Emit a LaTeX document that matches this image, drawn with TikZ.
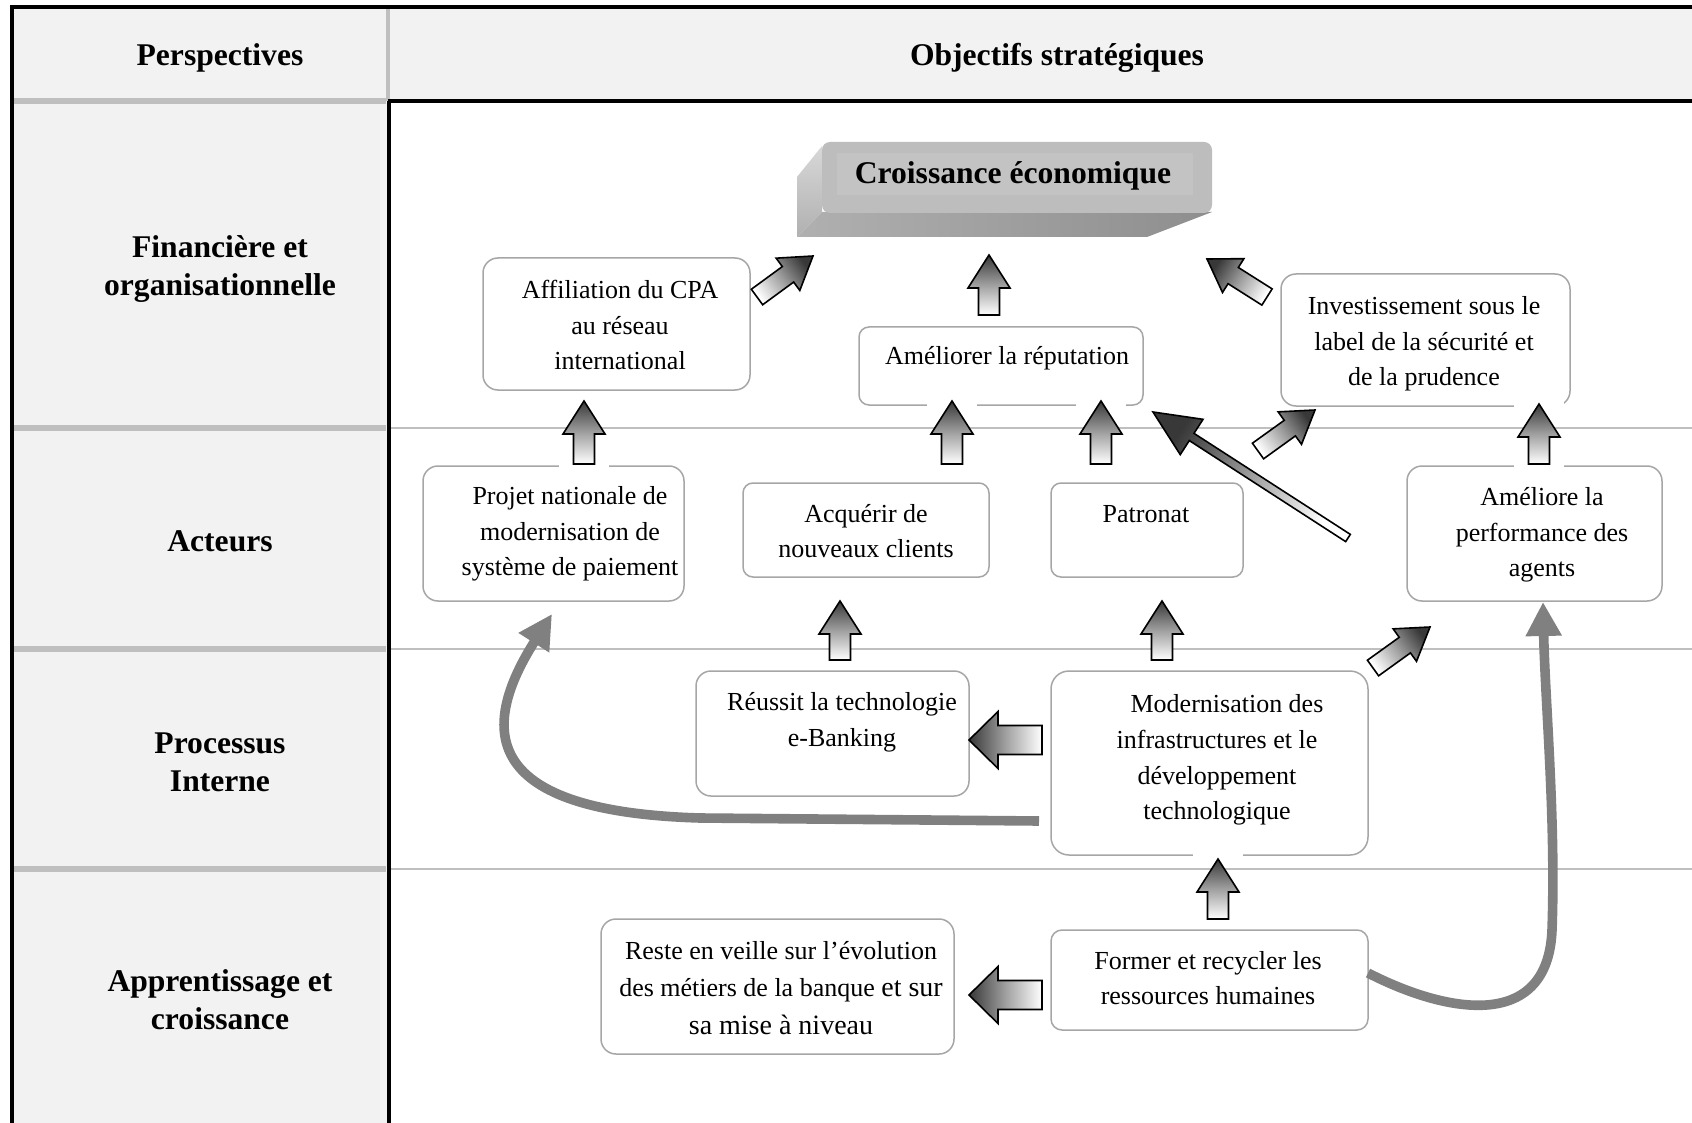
\documentclass[tikz,border=0pt]{standalone}
\usepackage{fontspec}
\setmainfont{Liberation Serif}
\usetikzlibrary{calc,arrows.meta,fit}

\definecolor{hdrfill}{HTML}{F2F2F2}
\definecolor{rulegray}{HTML}{BFBFBF}
\definecolor{boxline}{HTML}{A6A6A6}
\definecolor{curvegray}{HTML}{808080}
\definecolor{facegray}{HTML}{BDBDBD}
\definecolor{faceinner}{HTML}{C3C3C3}
\definecolor{sidelight}{HTML}{D8D8D8}
\definecolor{sidemid}{HTML}{B0B0B0}
\definecolor{sidedark}{HTML}{8E8E8E}
\definecolor{arrowdark}{HTML}{383838}
\definecolor{arrowmid}{HTML}{A0A0A0}

% block arrow: #1 style, #2 tail, #3 tip, #4 shaft half-width, #5 head half-width, #6 head length
\newcommand\blockarrow[6]{%
  \coordinate (ba-h) at ($(#3)!#6!(#2)$);
  \path[#1] ($(#2)!#4!90:(#3)$) -- ($(ba-h)!#4!90:(#3)$) -- ($(ba-h)!#5!90:(#3)$)
    -- (#3) -- ($(ba-h)!#5!-90:(#3)$) -- ($(ba-h)!#4!-90:(#3)$)
    -- ($(#2)!#4!-90:(#3)$) -- cycle;}
\newcommand\uparrowblk[2]{\blockarrow{upfill}{#1}{#2}{5.25pt}{10.5pt}{16.5pt}}
\newcommand\leftarrowblk[2]{\blockarrow{leftfill}{#1}{#2}{7.25pt}{14.25pt}{14.5pt}}
\newcommand\diagarrowblk[3]{\blockarrow{diagfill=#3}{#1}{#2}{4.8pt}{10pt}{15.5pt}}

\tikzset{
  objbox/.style={draw=boxline, line width=0.75pt, fill=white, rounded corners=#1, inner sep=0pt},
  objbox/.default=7.5pt,
  bodytxt/.style={font=\fontsize{13}{17.8}\selectfont, align=center, inner sep=0pt},
  headtxt/.style={font=\bfseries\fontsize{15.8}{19}\selectfont, align=center, inner sep=0pt},
  upfill/.style={draw=black, line width=0.8pt, top color=arrowdark, bottom color=white, middle color=arrowmid},
  leftfill/.style={draw=black, line width=0.8pt, left color=arrowdark, right color=white, middle color=arrowmid},
  diagfill/.style={draw=black, line width=0.8pt, top color=arrowdark, bottom color=white, middle color=arrowmid, shading angle=#1},
  thickcurve/.style={draw=curvegray, line width=4.8pt, -{Triangle[length=17pt,width=17pt]}},
  colrule/.style={rulegray, line width=2.6pt},
  rowrule/.style={rulegray, line width=0.75pt},
}

\begin{document}
\begin{tikzpicture}[x=0.5pt, y=-0.5pt]
\useasboundingbox (0,0) rectangle (1692,1123);
\clip (0,0) rectangle (1692,1123);

% table background
\fill[white] (0,0) rectangle (1692,1123);
\fill[hdrfill] (12,7) rectangle (1692,101);
\fill[hdrfill] (12,101) rectangle (389,1123);

% table rules
\draw[rulegray, line width=1.6pt] (388,7) -- (388,101);
\draw[colrule] (14,101) -- (386,101);
\foreach \yy in {428,649,869} \draw[colrule] (14,\yy) -- (386,\yy);
\draw[line width=2.2pt] (388,101) -- (1692,101);
\draw[line width=2.2pt] (389,101) -- (389,1123);
\draw[line width=2.3pt] (12,1123) -- (12,7) -- (1692,7);

% bevelled goal block
\shade[top color=sidelight, bottom color=sidemid] (822,146) -- (797,177) -- (797,237) -- (822,212) -- cycle;
\shade[left color=sidemid, right color=sidedark] (797,237) -- (822,212) -- (1212,212) -- (1147,237) -- cycle;
\fill[facegray, rounded corners=4pt] (822,142) rectangle (1212,213);
\fill[faceinner] (837,153) rectangle (1193,195);

% objective boxes
\node[objbox, fit={(483,258) (750,390)}] (aff) {};
\node[objbox=5pt, fit={(859,327) (1143,405)}] (rep) {};
\node[objbox, fit={(1281,274) (1570,406)}] (inv) {};
\node[objbox, fit={(423,466) (684,601)}] (proj) {};
\node[objbox=5pt, fit={(743,483) (989,577)}] (acq) {};
\node[objbox=5pt, fit={(1051,483) (1243,577)}] (pat) {};
\node[objbox, fit={(1407,466) (1662,601)}] (perf) {};
\node[objbox, fit={(696,671) (969,796)}] (ebk) {};
\node[objbox=9pt, fit={(1051,671) (1368,855)}] (mod) {};
\node[objbox, fit={(601,919) (954,1054)}] (vei) {};
\node[objbox=5.5pt, fit={(1051,930) (1368,1030)}] (form) {};

% arrow end points
\coordinate (u1-s) at (989,315);  \coordinate (u1-e) at (989,255);
\coordinate (u2-s) at (584,464);  \coordinate (u2-e) at (584,401);
\coordinate (u3-s) at (952,464);  \coordinate (u3-e) at (952,401);
\coordinate (u4-s) at (1101,464); \coordinate (u4-e) at (1101,401);
\coordinate (u5-s) at (1539,464); \coordinate (u5-e) at (1539,404);
\coordinate (u6-s) at (840,660);  \coordinate (u6-e) at (840,601);
\coordinate (u7-s) at (1162,660); \coordinate (u7-e) at (1162,601);
\coordinate (u8-s) at (1218,919); \coordinate (u8-e) at (1218,859);
\coordinate (l1-s) at (1042,740); \coordinate (l1-e) at (969,740);
\coordinate (l2-s) at (1042,995); \coordinate (l2-e) at (969,995);
\coordinate (d1-s) at (757,297);  \coordinate (d1-e) at (813,256);
\coordinate (d2-s) at (1267,297); \coordinate (d2-e) at (1207,259);
\coordinate (d3-s) at (1258,451); \coordinate (d3-e) at (1315,410);
\coordinate (d4-s) at (1373,668); \coordinate (d4-e) at (1430,627);
\coordinate (lg-s) at (1348,538); \coordinate (lg-e) at (1153,412);

% white margins around the vertical arrows
\foreach \cx/\ya/\yb in {584/395/470, 952/395/470, 1101/395/470, 1539/398/470, 1218/853/925}
  \fill[white] (\cx-25,\ya) rectangle (\cx+25,\yb);

% row separators of the objectives column
\foreach \yy in {428,649,869} \draw[rowrule] (391,\yy) -- (1692,\yy);

% block arrows
\uparrowblk{u1-s}{u1-e}
\uparrowblk{u2-s}{u2-e}
\uparrowblk{u3-s}{u3-e}
\uparrowblk{u4-s}{u4-e}
\uparrowblk{u5-s}{u5-e}
\uparrowblk{u6-s}{u6-e}
\uparrowblk{u7-s}{u7-e}
\uparrowblk{u8-s}{u8-e}
\leftarrowblk{l1-s}{l1-e}
\leftarrowblk{l2-s}{l2-e}
\diagarrowblk{d1-s}{d1-e}{-54}
\diagarrowblk{d2-s}{d2-e}{58}
\diagarrowblk{d3-s}{d3-e}{-54}
\diagarrowblk{d4-s}{d4-e}{-54}
\blockarrow{diagfill=57}{lg-s}{lg-e}{2.15pt}{10.5pt}{23pt}

% thick curved links
\coordinate (c1-s) at (1039,821);
\coordinate (c1-e) at (552,614);
\coordinate (c2-s) at (1368,973);
\coordinate (c2-e) at (1543,602);
\draw[thickcurve] (c1-s) -- (700,818) .. controls (495,812) and (472,740) .. (c1-e);
\draw[thickcurve] (c2-s) .. controls (1450,1015) and (1548,1030) .. (1552,930)
  .. controls (1556,820) and (1545,700) .. (c2-e);

% header and perspective labels
\node[headtxt] (h-persp) at (220,58) {Perspectives};
\node[headtxt] (h-obj) at (1057,58) {Objectifs stratégiques};
\node[headtxt] (p-fin) at (220,269) {Financière et\\organisationnelle};
\node[headtxt] (p-act) at (220,541) {Acteurs};
\node[headtxt] (p-proc) at (220,762) {Processus\\Interne};
\node[headtxt] (p-app) at (220,1000) {Apprentissage et\\croissance};

% objective labels
\node[headtxt] (croiss) at (1013,176) {Croissance économique};
\node[bodytxt] (aff-t) at (620,325) {Affiliation du CPA\\au réseau\\international};
\node[bodytxt] (rep-t) at (1007,358) {Améliorer la réputation};
\node[bodytxt] (inv-t) at (1424,344) {Investissement sous le\\label de la sécurité et\\de la prudence};
\node[bodytxt] (proj-t) at (570,534) {Projet nationale de\\modernisation de\\système de paiement};
\node[bodytxt] (acq-t) at (866,531) {Acquérir de\\nouveaux clients};
\node[bodytxt] (pat-t) at (1146,514) {Patronat};
\node[bodytxt] (perf-t) at (1542,535) {Améliore la\\performance des\\agents};
\node[bodytxt] (ebk-t) at (842,722) {Réussit la technologie\\e-Banking};
\node[bodytxt] (mod-t) at (1217,760) {\hspace*{10pt}Modernisation des\\infrastructures et le\\développement\\technologique};
\node[bodytxt, font=\fontsize{13}{18.8}\selectfont] (vei-t) at (781,988) {Reste en veille sur l’évolution\\des métiers de la banque {\fontsize{14}{18.8}\selectfont et sur}\\{\fontsize{14}{18.8}\selectfont sa mise à niveau}};
\node[bodytxt] (form-t) at (1208,978) {Former et recycler les\\ressources humaines};
\end{tikzpicture}
\end{document}
